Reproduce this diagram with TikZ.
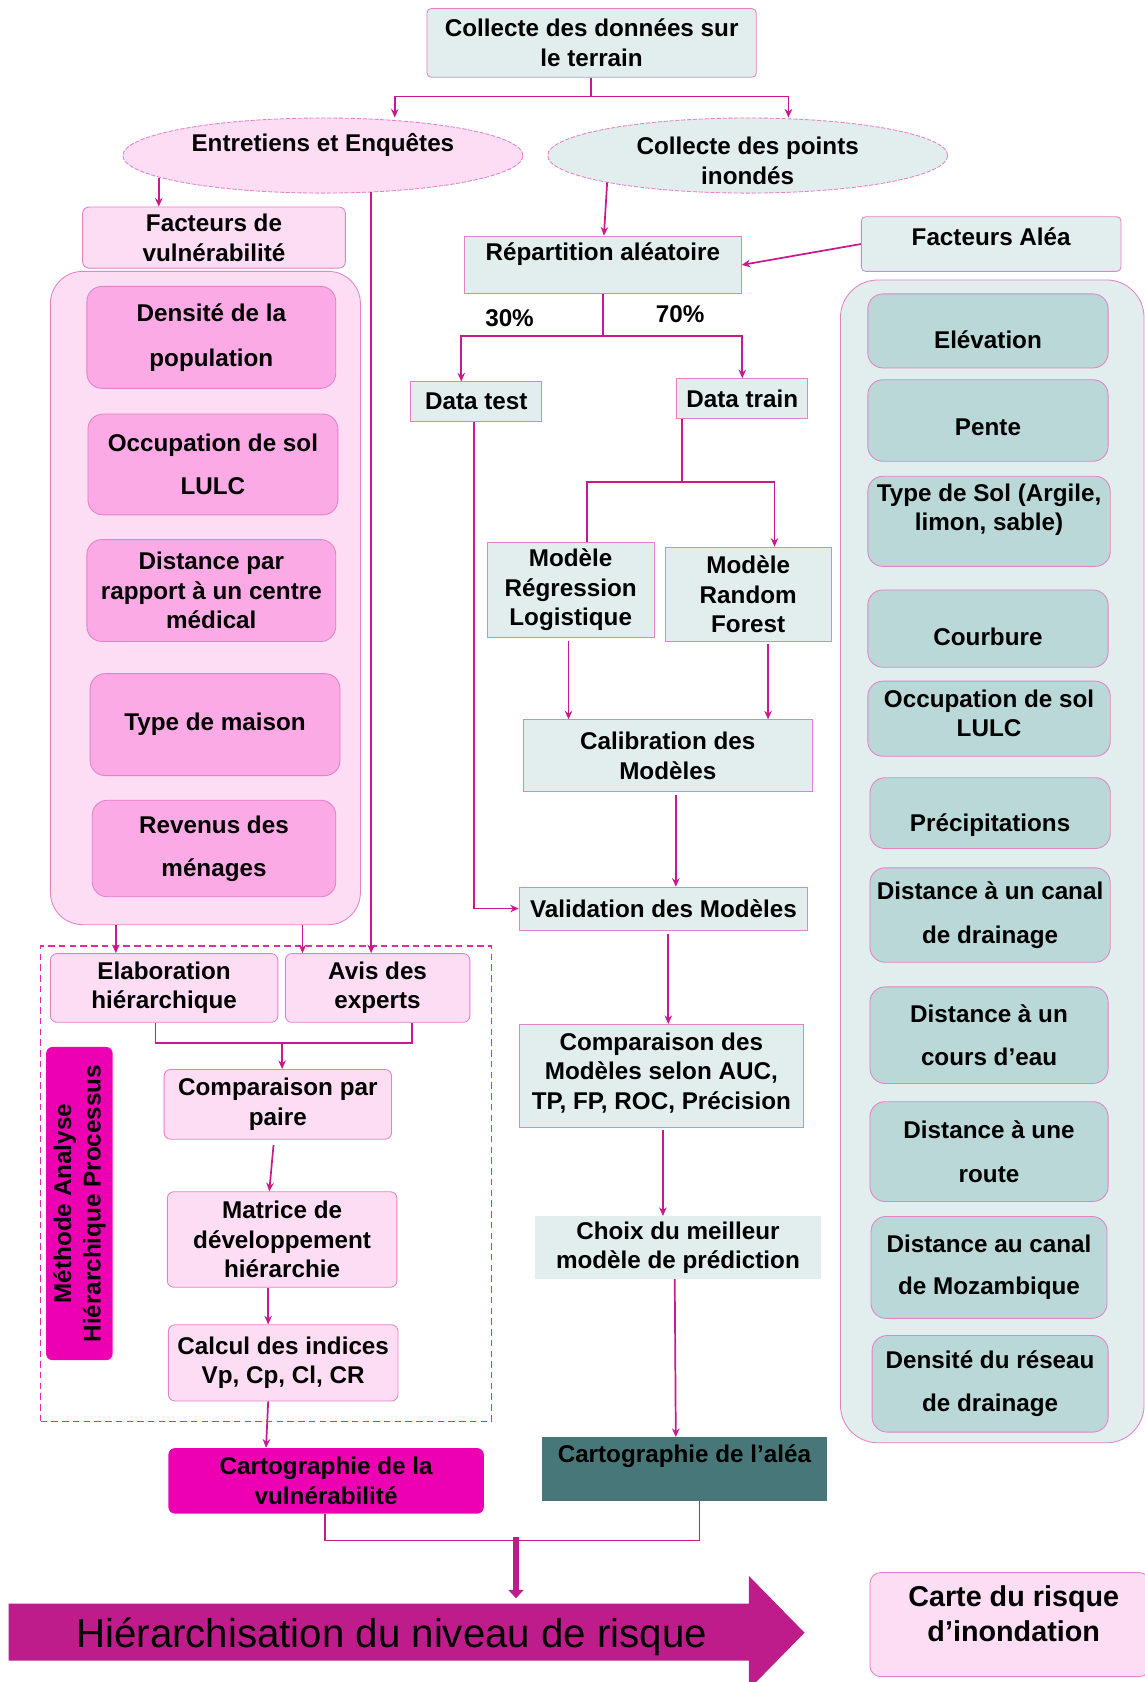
\documentclass[tikz,border=0pt]{standalone}
\usepackage{fontspec}
\setmainfont{Liberation Sans}
\usetikzlibrary{shapes.geometric,arrows.meta,calc}
\definecolor{ln}{RGB}{199,26,140}
\definecolor{bd}{RGB}{228,130,200}
\definecolor{gbox}{RGB}{226,238,238}
\definecolor{lpink}{RGB}{253,221,244}
\definecolor{mpink}{RGB}{251,170,229}
\definecolor{tealbox}{RGB}{186,216,216}
\definecolor{mag}{RGB}{236,0,178}
\definecolor{dteal}{RGB}{72,119,122}
\definecolor{bigar}{RGB}{190,28,138}
\definecolor{dashc}{RGB}{232,40,170}
\tikzset{
 txt/.style={inner sep=0pt, align=center, font=\fontsize{22.6}{27.5}\selectfont\bfseries, text=black},
 shp/.style={inner sep=0pt, line width=0.8pt},
 gb/.style={shp, fill=gbox, draw=bd},
 gbnb/.style={shp, fill=gbox},
 lp/.style={shp, fill=lpink, draw=bd, rounded corners=6pt},
 mp/.style={shp, fill=mpink, draw=bd, rounded corners=14pt},
 tb/.style={shp, fill=tealbox, draw=bd, rounded corners=14pt},
 magbox/.style={shp, fill=mag, rounded corners=6pt},
 tealdark/.style={shp, fill=dteal},
 ell/.style={ellipse, shp, draw=bd, dash pattern=on 4pt off 1.5pt},
 conn/.style={draw=ln, line width=1.6pt},
 arr/.style={conn, -{Stealth[length=8pt,width=7pt]}},
}
\newcommand\bx[8][0]{%
 \node[#3, minimum width={#6-#4}, minimum height={#7-#5}] (#2) at ({(#4+#6)/2},{(#5+#7)/2}) {};
 \node[txt] (#2t) at ($(#2.center)+(0,#1)$) {#8};}
\begin{document}
\begin{tikzpicture}[x=1pt,y=-1pt]
\useasboundingbox (0,0) rectangle (1067,1568);
\fill[white] (0,0) rectangle (1067,1568);

% ---------- top ----------
\bx{top}{gb,rounded corners=4pt}{398}{8}{705}{72}{Collecte des données sur\\le terrain}
\node[ell, fill=lpink, minimum width=373, minimum height=70] (ent) at (301,145) {};
\node[txt] (entt) at (301,135) {Entretiens et Enquêtes};
\node[ell, fill=gbox, minimum width=373, minimum height=70] (col) at (697,145) {};
\node[txt] (colt) at (697,150) {Collecte des points\\inondés};

% ---------- left column ----------
\bx{fv}{lp}{77}{193}{322}{250}{Facteurs de\\vulnérabilité}
\node[shp, fill=lpink, draw=bd, rounded corners=30pt, minimum width=289, minimum height=609] (lc) at (191.5,557.5) {};
\bx{d1}{mp}{81}{267}{313}{362}{Densité de la\\[14pt]population}
\bx{d2}{mp}{82}{386}{315}{480}{Occupation de sol\\[13pt]LULC}
\bx{d3}{mp}{81}{503}{313}{598}{Distance par\\rapport à un centre\\médical}
\bx{d4}{mp}{84}{628}{317}{723}{Type de maison}
\bx{d5}{mp}{86}{746}{313}{836}{Revenus des\\[13pt]ménages}

\node[draw=dashc, dash pattern=on 6pt off 4pt, line width=1.3pt, inner sep=0pt, minimum width=420, minimum height=443] (ahp) at (248,1103.5) {};
\bx{elab}{lp}{47}{889}{259}{953}{Elaboration\\hiérarchique}
\bx{avis}{lp}{266}{889}{438}{953}{Avis des\\experts}
\node[shp, fill=mag, rounded corners=6pt, minimum width=62, minimum height=292] (meth) at (74,1122) {};
\node[txt, rotate=90] (metht) at (74,1122) {Méthode Analyse\\Hiérarchique Processus};
\bx{cpp}{lp}{153}{997}{365}{1062}{Comparaison par\\paire}
\bx{mat}{lp}{156}{1111}{370}{1200}{Matrice de\\développement\\hiérarchie}
\bx{calc}{lp}{157}{1235}{371}{1306}{Calcul des indices\\Vp, Cp, Cl, CR}
\bx{cv}{magbox}{157}{1350}{451}{1411}{Cartographie de la\\vulnérabilité}

% ---------- middle column ----------
\bx[-10]{rep}{gb}{433}{220}{691}{274}{Répartition aléatoire}
\bx[-7]{fa}{gb,rounded corners=4pt}{803}{202}{1045}{253}{Facteurs Aléa}
\node[txt] (p30) at (475,297) {30\%};
\node[txt] (p70) at (634,293) {70\%};
\bx{dtest}{gb}{383}{356}{505}{393}{Data test}
\bx{dtrain}{gb}{631}{353}{753}{390}{Data train}
\bx{mrl}{gb}{454}{506}{610}{594}{Modèle\\Régression\\Logistique}
\bx{mrf}{gb}{620}{510}{775}{598}{Modèle\\Random\\Forest}
\bx{cal}{gb}{488}{671}{757}{738}{Calibration des\\Modèles}
\bx{val}{gb}{484}{827}{753}{867}{Validation des Modèles}
\bx[-3]{cmp}{gb}{484}{955}{749}{1051}{Comparaison des\\Modèles selon AUC,\\TP, FP, ROC, Précision}
\bx{choix}{gbnb}{499}{1134}{765}{1192}{Choix du meilleur\\modèle de prédiction}
\bx[-12]{alea}{tealdark}{505}{1340}{771}{1399}{Cartographie de l’aléa}

% ---------- right column ----------
\node[shp, fill=gbox, draw=bd, rounded corners=35pt, minimum width=283, minimum height=1084] (rc) at (925,803) {};
\bx[8]{r1}{tb}{809}{274}{1033}{343}{Elévation}
\bx[6]{r2}{tb}{809}{354}{1033}{430}{Pente}
\bx[-11]{r3}{tb}{809}{444}{1035}{528}{Type de Sol (Argile,\\limon, sable)}
\bx[8]{r4}{tb}{809}{550}{1033}{622}{Courbure}
\bx[-5]{r5}{tb}{809}{635}{1035}{705}{Occupation de sol\\LULC}
\bx[11]{r6}{tb}{811}{725}{1035}{791}{Précipitations}
\bx{r7}{tb}{811}{809}{1035}{897}{Distance à un canal\\[13pt]de drainage}
\bx{r8}{tb}{811}{920}{1033}{1010}{Distance à un\\[13pt]cours d’eau}
\bx{r9}{tb}{811}{1027}{1033}{1120}{Distance à une\\[13pt]route}
\bx{r10}{tb}{812}{1134}{1032}{1229}{Distance au canal\\[12pt]de Mozambique}
\bx{r11}{tb}{813}{1245}{1033}{1335}{Densité du réseau\\[13pt]de drainage}

% ---------- bottom ----------
\fill[bigar] (8,1495) -- (698,1495) -- (698,1469) -- (750,1522) -- (698,1575) -- (698,1548) -- (8,1548) -- cycle;
\coordinate (bigtop) at (481,1490);
\node[inner sep=0pt, font=\fontsize{37.5}{40}\selectfont, text=black, anchor=base west] (hier) at (71,1536) {Hiérarchisation du niveau de risque};
\node[lp, rounded corners=10pt, minimum width=261, minimum height=97] (carte) at (941.5,1514.5) {};
\node[inner sep=0pt, align=center, font=\fontsize{26.8}{33}\selectfont\bfseries] (cartet) at (945,1504.5) {Carte du risque\\d’inondation};

% ---------- connectors ----------
\draw[conn] (top.south -| 551,0) -- (551,90) coordinate (j0);
\draw[arr] (j0) -| (ent.north -| 368,0);
\draw[arr] (j0) -| (col.north -| 735,0);
\draw[arr] (ent.188 -| 148,0) -- (fv.north -| 148,0);
\draw[arr] (ent.south -| 346,0) ++(0,-1) -- (avis.north -| 346,0);
\draw[arr] ($(col.center)+(-131,25)$) -- (rep.north -| 563,0);
\draw[arr] (fa.west) -- (rep.east);
\draw[conn] (rep.south) -- ++(0,39) coordinate (sp);
\draw[arr] (sp) -| (dtest.north -| 430,0);
\draw[arr] (sp) -| (dtrain.north);
\draw[arr] (dtest.south -| 442,0) |- (val.west);
\draw[conn] (dtrain.south -| 636,0) -- (636,449) coordinate (sp2);
\draw[conn] (sp2) -| (mrl.north -| 547,0);
\draw[arr] (sp2) -| (mrf.north -| 722,0);
\draw[arr] (mrl.south -| 530,0) ++(0,3) -- (cal.north -| 530,0);
\draw[arr] (mrf.south -| 716,0) ++(0,2) -- (cal.north -| 716,0);
\draw[arr] (cal.south -| 630,0) ++(0,3) -- (val.north -| 630,0);
\draw[arr] (val.south -| 623,0) ++(0,3) -- (cmp.north -| 623,0);
\draw[arr] (cmp.south -| 618,0) ++(0,2) -- (choix.north -| 618,0);
\draw[arr] (choix.south -| 629,0) -- (alea.north -| 630,0);

\draw[arr] (lc.south -| 108,0) -- (elab.north -| 108,0);
\draw[arr] (lc.south -| 282,0) -- (avis.north -| 282,0);
\draw[conn] (elab.south -| 145,0) -- (145,972) -- (384,972) -- (avis.south -| 384,0);
\draw[arr] (263,972) -- (cpp.north -| 263,0);
\draw[arr] (cpp.south -| 255,0) ++(0,5) -- (mat.north -| 251,0);
\draw[arr] (mat.south -| 250,0) -- (calc.north -| 250,0);
\draw[arr] (calc.south -| 250,0) -- (cv.north -| 248,0);
\draw[conn] (cv.south -| 303,0) -- (303,1436) -- (652,1436) -- (alea.south -| 652,0);
\draw[draw=bigar, line width=6pt, -{Triangle[length=8pt,width=14pt]}] (481,1433) -- (bigtop);
\end{tikzpicture}
\end{document}
